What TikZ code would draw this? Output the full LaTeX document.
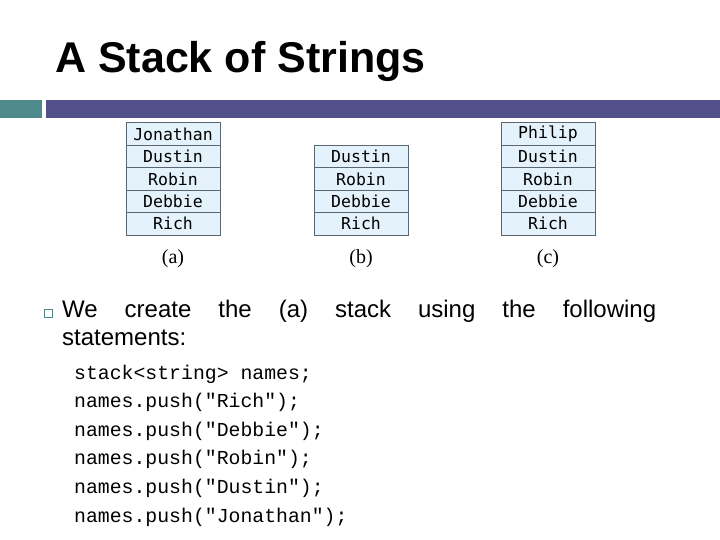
\documentclass[tikz,border=0pt]{standalone}
\usepackage{fontspec}
\setmainfont{Liberation Sans}
\setmonofont{Liberation Mono}
\newfontfamily\cellfont{DejaVu Sans Mono}
\usetikzlibrary{positioning}
\definecolor{barteal}{HTML}{4E8A8C}
\definecolor{barpurple}{HTML}{51508A}
\definecolor{cellblue}{HTML}{E4F2FB}
\definecolor{cellline}{HTML}{5A6670}
\begin{document}
\begin{tikzpicture}[x=1pt, y=1pt,
    cell/.style={draw=cellline, fill=cellblue, line width=0.9pt, minimum width=94pt, minimum height=22.5pt, inner sep=0pt, font=\cellfont\fontsize{16.5}{16.5}\selectfont},
    caption/.style={font=\fontspec{Liberation Serif}\fontsize{20}{20}\selectfont},
    codeline/.style={anchor=base west, inner sep=0pt, font=\ttfamily\fontsize{19.8}{20}\selectfont}
]
\useasboundingbox (0,0) rectangle (720,-540);

% Title and header bars
\node[anchor=base west, inner sep=0pt, font=\bfseries\fontsize{43}{43}\selectfont] (title) at (55,-73) {A Stack of Strings};
\fill[barteal] (0,-100) rectangle (42,-118);
\fill[barpurple] (46,-100) rectangle (720,-118);

% Stack (a)
\foreach \name [count=\i] in {Jonathan,Dustin,Robin,Debbie,Rich}
  \node[cell] (a\i) at (173,-123-22.4*\i+11.2) {\name};
% Stack (b)
\foreach \name [count=\i from 2] in {Dustin,Robin,Debbie,Rich}
  \node[cell] (b\i) at (361,-123-22.4*\i+11.2) {\name};
% Stack (c)
\foreach \name [count=\i] in {Philip,Dustin,Robin,Debbie,Rich}
  \node[cell] (c\i) at (548,-123-22.4*\i+11.2) {\name};

\node[caption] (capa) at (173,-259) {(a)};
\node[caption] (capb) at (361,-259) {(b)};
\node[caption] (capc) at (548,-259) {(c)};

% Bullet text
\draw[barteal, line width=1.1pt] (44.5,-309.5) rectangle (52.5,-317.5);
\node[anchor=north west, inner sep=0pt, text width=594pt, align=justify, font=\fontsize{24}{28}\selectfont] (stmt) at (62,-300)
  {We create the (a) stack using the following\linebreak statements:};

% Code
\foreach \line [count=\i from 0] in {stack<string> names;,names.push("Rich");,names.push("Debbie");,names.push("Robin");,names.push("Dustin");,names.push("Jonathan");}
  \node[codeline] (code\i) at (74,-379-28.6*\i) {\line};

\end{tikzpicture}
\end{document}
